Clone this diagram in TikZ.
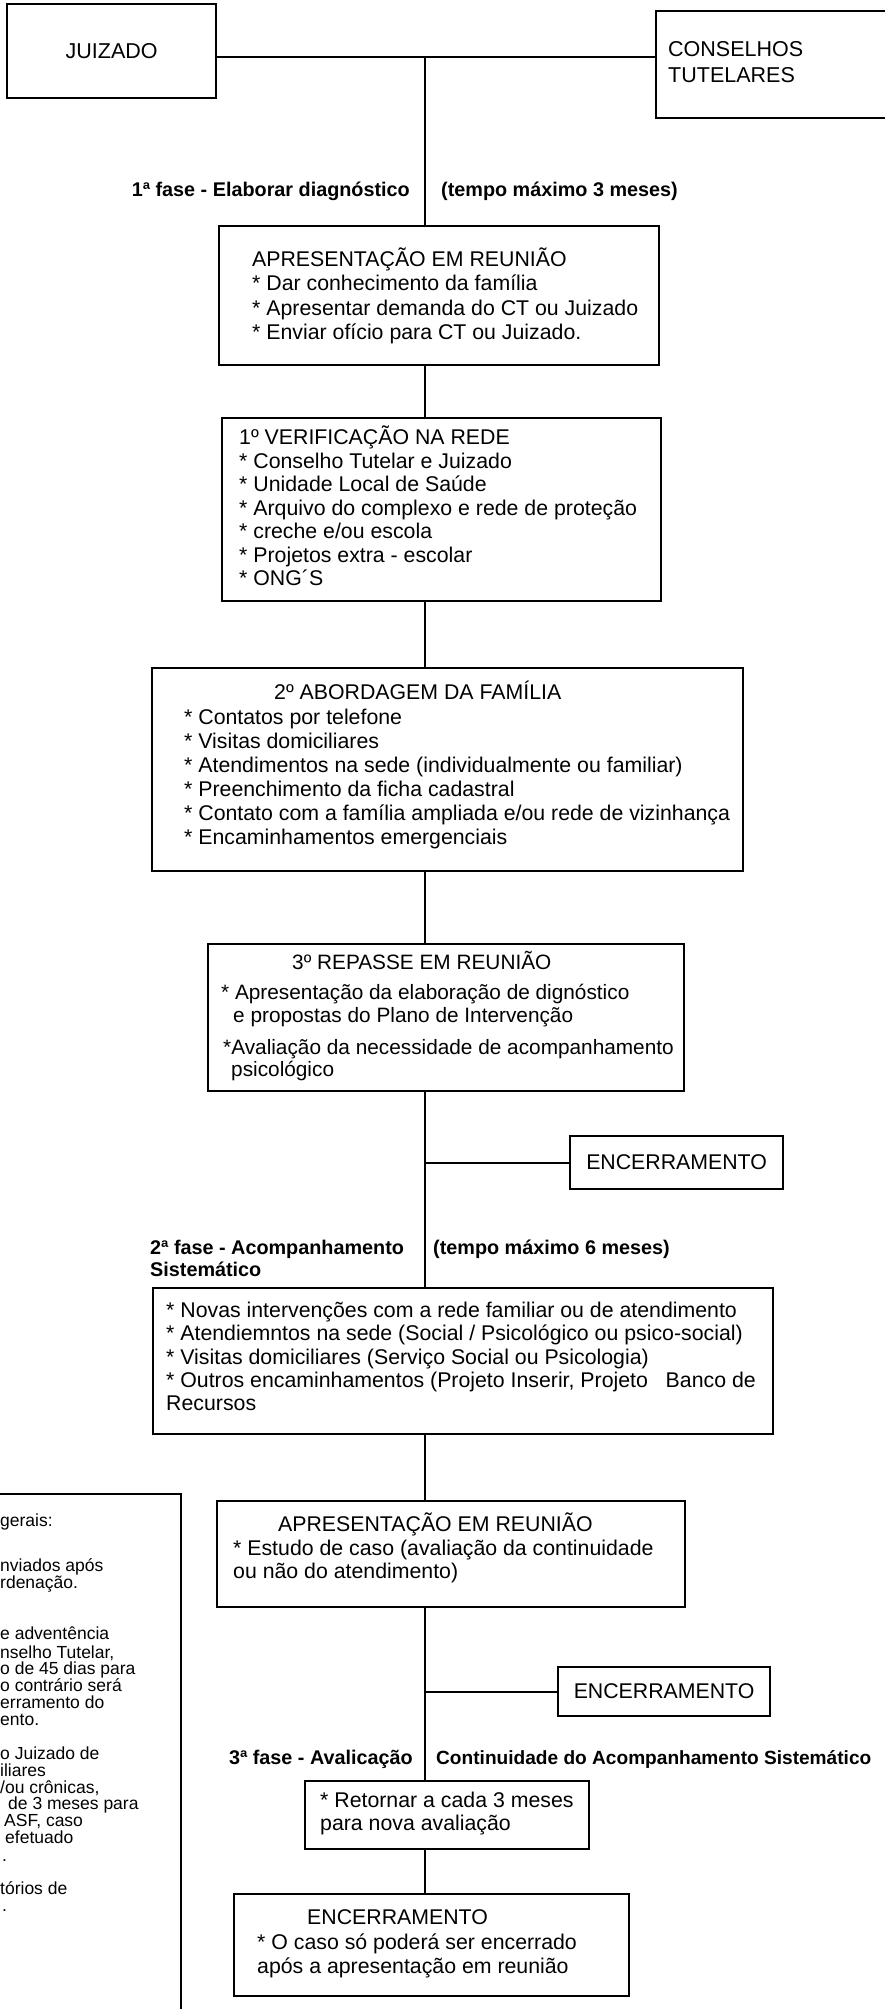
\documentclass[tikz,border=0pt]{standalone}
\usepackage{fontspec}
\setmainfont{Liberation Sans}
\newcommand\corpo{\fontsize{21.3pt}{24pt}\selectfont}
\newcommand\corpob{\fontsize{20.8pt}{24pt}\selectfont}
\newcommand\fasefont{\fontsize{19.8pt}{22pt}\selectfont\bfseries}
\newcommand\notafont{\fontsize{17.5pt}{17pt}\selectfont}
\newcommand\topofont{\fontsize{21.5pt}{25pt}\selectfont}
\tikzset{
  caixa/.style={draw, line width=2.2pt, inner sep=0pt, anchor=north west, font=\corpo},
  linha/.style={anchor=base west, inner sep=0pt, font=\corpo},
  fase/.style={anchor=base west, inner sep=0pt, font=\fasefont},
  nota/.style={anchor=base west, inner sep=0pt, font=\notafont},
  liga/.style={line width=1.8pt}
}
\begin{document}
\begin{tikzpicture}[x=1pt, y=-1pt]
  \useasboundingbox (0,0) rectangle (885,2009);
  \fill[white] (0,0) rectangle (885,2009);
  \clip (0,0) rectangle (885,2009);
  \node[caixa, minimum width=209pt, minimum height=94pt, font=\topofont] (jz) at (6,3) {JUIZADO};
  \node[caixa, minimum width=260pt, minimum height=107pt] (ct) at (655,10) {};
  \node[linha, font=\topofont] (ct1) at (668,57) {CONSELHOS};
  \node[linha, font=\topofont] (ct2) at (668,83) {TUTELARES};
  \node[caixa, minimum width=440pt, minimum height=139pt] (b1) at (218,225) {};
  \node[caixa, minimum width=439pt, minimum height=183pt] (b2) at (221,417) {};
  \node[caixa, minimum width=591pt, minimum height=203pt] (b3) at (151,667) {};
  \node[caixa, minimum width=476pt, minimum height=147pt] (b4) at (207,943) {};
  \node[caixa, minimum width=213pt, minimum height=53pt] (enc1) at (569,1135) {ENCERRAMENTO};
  \node[caixa, minimum width=620pt, minimum height=146pt] (b5) at (152,1287) {};
  \node[caixa, minimum width=468pt, minimum height=106pt] (b6) at (216,1500) {};
  \node[caixa, minimum width=212pt, minimum height=49pt] (enc2) at (557,1666) {ENCERRAMENTO};
  \node[caixa, minimum width=284pt, minimum height=68pt] (b7) at (304,1780) {};
  \node[caixa, minimum width=395pt, minimum height=102pt] (b8) at (233,1893) {};
  \node[caixa, minimum width=230pt, minimum height=560pt] (nota) at (-50,1493) {};

  \coordinate (eixo) at (425,57);
  \draw[liga] (jz.east |- eixo) -- (ct.west |- eixo);
  \draw[liga] (eixo) -- (eixo |- b1.north);
  \foreach \a/\b in {b1/b2, b2/b3, b3/b4, b4/b5, b5/b6, b6/b7, b7/b8}
    \draw[liga] (\a.south -| eixo) -- (\b.north -| eixo);
  \draw[liga] (enc1.west) -- (enc1.west -| eixo);
  \draw[liga] (enc2.west) -- (enc2.west -| eixo);

  \node[fase, anchor=base east] (f1) at (410,197) {1ª fase - Elaborar diagnóstico};
  \node[fase] (t1) at (441,197) {(tempo máximo 3 meses)};
  \node[fase] (f2) at (150,1254) {2ª fase - Acompanhamento};
  \node[fase] (f2b) at (150,1276) {Sistemático};
  \node[fase] (t2) at (433,1254) {(tempo máximo 6 meses)};
  \node[fase, anchor=base east] (f3) at (413,1764) {3ª fase - Avalicação};
  \node[fase, font=\fontsize{19.1pt}{22pt}\selectfont\bfseries] (t3) at (436,1764) {Continuidade do Acompanhamento Sistemático};

  \foreach \txt [count=\i from 0] in {APRESENTAÇÃO EM REUNIÃO, * Dar conhecimento da família,
      * Apresentar demanda do CT ou Juizado, * Enviar ofício para CT ou Juizado.}
    \node[linha] (b1l\i) at (252,266+24.5*\i) {\txt};
  \foreach \txt [count=\i from 0] in {1º VERIFICAÇÃO NA REDE, * Conselho Tutelar e Juizado,
      * Unidade Local de Saúde, * Arquivo do complexo e rede de proteção,
      * creche e/ou escola, * Projetos extra - escolar, * ONG´S}
    \node[linha] (b2l\i) at (239,444.5+23.5*\i) {\txt};
  \node[linha] (b3t) at (274,699.5) {2º ABORDAGEM DA FAMÍLIA};
  \foreach \txt [count=\i from 0] in {* Contatos por telefone, * Visitas domiciliares,
      * Atendimentos na sede (individualmente ou familiar), * Preenchimento da ficha cadastral,
      * Contato com a família ampliada e/ou rede de vizinhança, * Encaminhamentos emergenciais}
    \node[linha] (b3l\i) at (184,724.5+24*\i) {\txt};
  \foreach \x/\y/\txt [count=\i] in {292/969/3º REPASSE EM REUNIÃO,
      221/999/* Apresentação da elaboração de dignóstico,
      233/1022/e propostas do Plano de Intervenção,
      223/1054/*Avaliação da necessidade de acompanhamento, 231/1076/psicológico}
    \node[linha, font=\corpob] (b4l\i) at (\x,\y) {\txt};
  \foreach \txt [count=\i from 0] in {* Novas intervenções com a rede familiar ou de atendimento,
      * Atendiemntos na sede (Social / Psicológico ou psico-social),
      * Visitas domiciliares (Serviço Social ou Psicologia),
      {* Outros encaminhamentos (Projeto Inserir, Projeto\ \ \ Banco de}, Recursos}
    \node[linha] (b5l\i) at (166,1317.5+23.3*\i) {\txt};
  \foreach \x/\y/\txt [count=\i] in {278/1531/APRESENTAÇÃO EM REUNIÃO,
      233/1555/* Estudo de caso (avaliação da continuidade, 233/1578/ou não do atendimento)}
    \node[linha] (b6l\i) at (\x,\y) {\txt};
  \node[linha] (b7l1) at (320,1807.5) {* Retornar a cada 3 meses};
  \node[linha] (b7l2) at (320,1830.5) {para nova avaliação};
  \foreach \x/\y/\txt [count=\i] in {307/1924/ENCERRAMENTO,
      257/1949/* O caso só poderá ser encerrado, 257/1973/após a apresentação em reunião}
    \node[linha] (b8l\i) at (\x,\y) {\txt};

  \foreach \x/\y/\txt [count=\i] in {0/1526/gerais:, 0/1571/nviados após, 0/1588/rdenação.,
      0/1639/e adventência, 0/1658/{nselho Tutelar,}, 0/1674/o de 45 dias para,
      0/1691/o contrário será, 0/1708/erramento do, 0/1725/ento., 0/1759/o Juizado de,
      0/1776/iliares, 0/1793/{/ou crônicas,}, 8/1809/de 3 meses para, 4/1826/{ASF, caso},
      5/1843/efetuado, 2/1861/., 0/1894/tórios de, 2/1911/.}
    \node[nota] (n\i) at (\x,\y) {\txt};
\end{tikzpicture}
\end{document}
